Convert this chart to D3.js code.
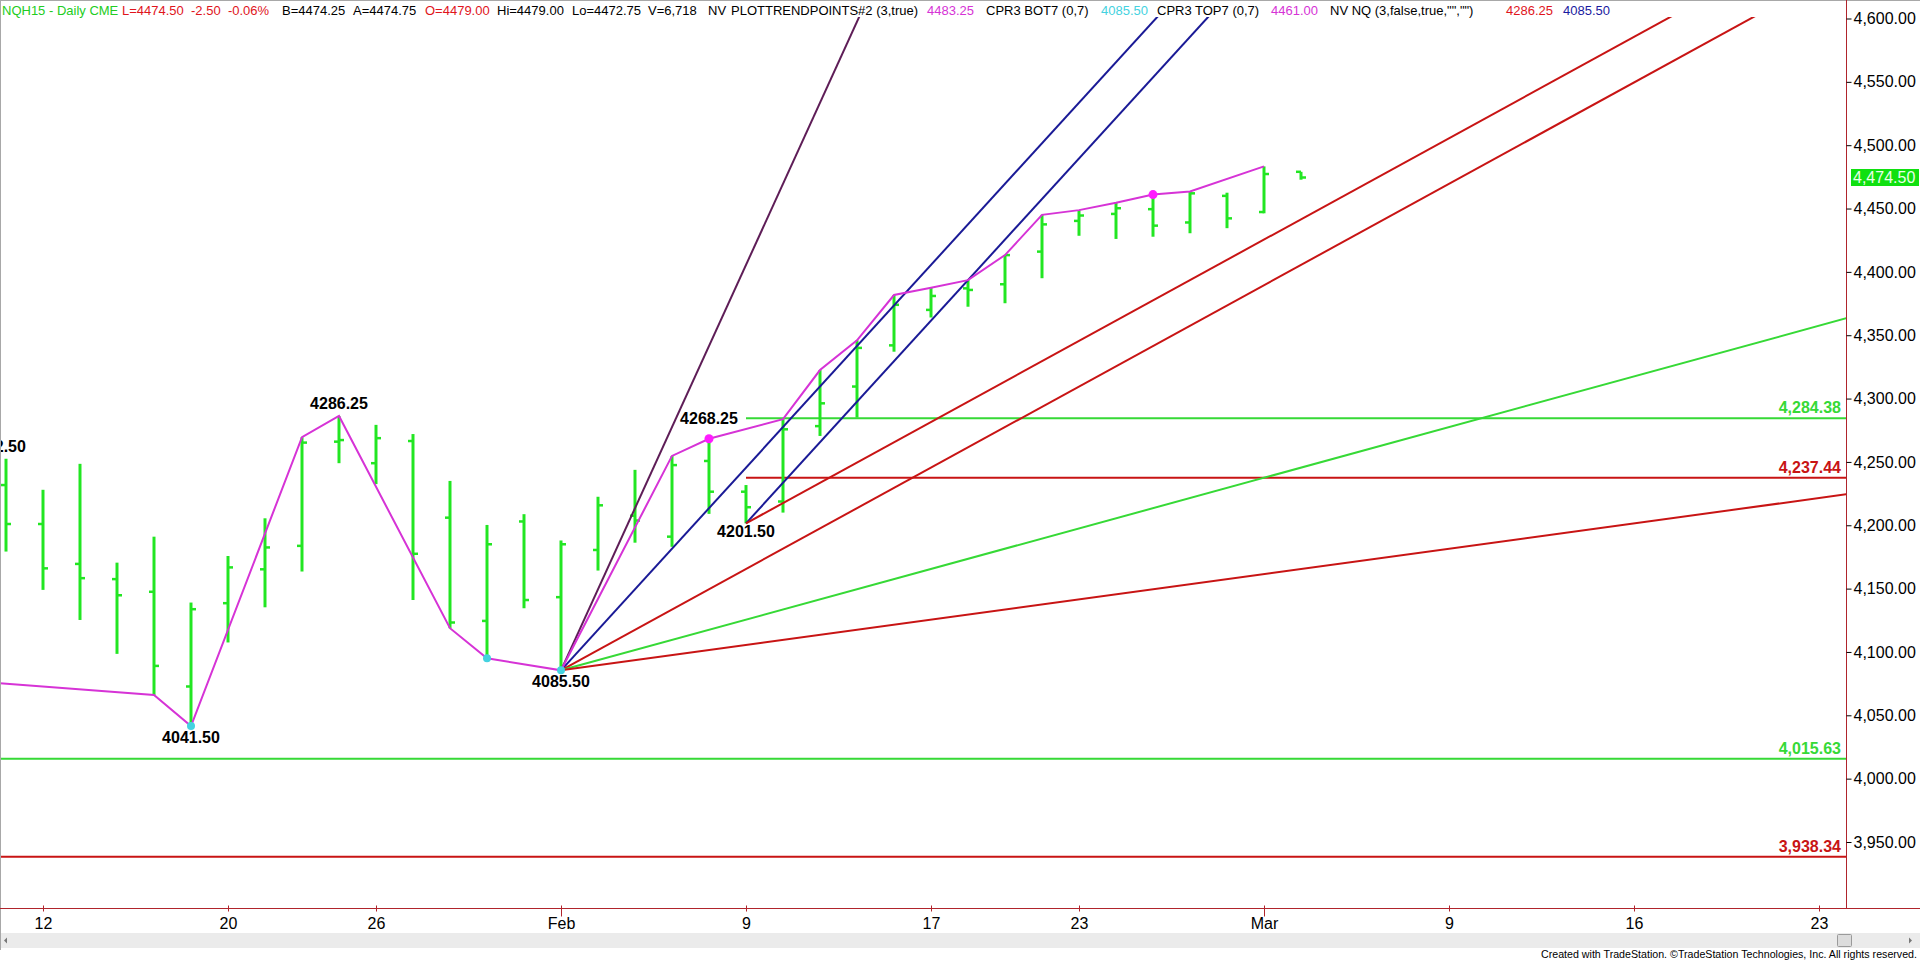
<!DOCTYPE html>
<html><head><meta charset="utf-8">
<script src="https://cdn.jsdelivr.net/npm/d3@7"></script>
<style>
html,body{margin:0;padding:0;background:#fff;overflow:hidden}
svg{display:block}
</style></head><body>
<svg id="chart" width="1920" height="964"></svg>
<script>
// ---------------- DATA ----------------
const tradingDays = [
 "2015-01-05","2015-01-06","2015-01-07","2015-01-08","2015-01-09",
 "2015-01-12","2015-01-13","2015-01-14","2015-01-15","2015-01-16",
 "2015-01-20","2015-01-21","2015-01-22","2015-01-23",
 "2015-01-26","2015-01-27","2015-01-28","2015-01-29","2015-01-30",
 "2015-02-02","2015-02-03","2015-02-04","2015-02-05","2015-02-06",
 "2015-02-09","2015-02-10","2015-02-11","2015-02-12","2015-02-13",
 "2015-02-17","2015-02-18","2015-02-19","2015-02-20",
 "2015-02-23","2015-02-24","2015-02-25","2015-02-26","2015-02-27",
 "2015-03-02","2015-03-03","2015-03-04","2015-03-05","2015-03-06",
 "2015-03-09","2015-03-10","2015-03-11","2015-03-12","2015-03-13",
 "2015-03-16","2015-03-17","2015-03-18","2015-03-19","2015-03-20",
 "2015-03-23","2015-03-24","2015-03-25","2015-03-26","2015-03-27"
];
const barDates = ["2015-01-09","2015-01-12","2015-01-13","2015-01-14","2015-01-15","2015-01-16",
 "2015-01-20","2015-01-21","2015-01-22","2015-01-23","2015-01-26","2015-01-27","2015-01-28",
 "2015-01-29","2015-01-30","2015-02-02","2015-02-03","2015-02-04","2015-02-05","2015-02-06",
 "2015-02-09","2015-02-10","2015-02-11","2015-02-12","2015-02-13","2015-02-17","2015-02-18",
 "2015-02-19","2015-02-20","2015-02-23","2015-02-24","2015-02-25","2015-02-26","2015-02-27",
 "2015-03-02","2015-03-03"];
const opens  = [4231.75,4201.00,4169.50,4157.50,4147.50,4072.75,4138.50,4165.25,4183.75,4266.00,4249.00,4266.50,4206.00,
 4124.50,4203.00,4143.25,4180.50,4207.50,4191.00,4250.75,4226.50,4218.75,4278.25,4309.50,4342.00,4370.00,4387.00,
 4390.25,4416.00,4440.25,4445.75,4449.50,4439.00,4460.00,4447.25,4479.00];
const highs  = [4252.50,4228.00,4248.50,4170.50,4191.00,4139.00,4175.75,4205.50,4269.50,4286.25,4279.25,4272.00,4235.00,
 4200.25,4208.75,4188.00,4222.50,4243.75,4254.75,4268.25,4231.75,4283.75,4322.50,4346.00,4381.75,4387.50,4393.50,
 4413.25,4445.00,4448.75,4454.50,4461.00,4463.50,4462.50,4483.25,4479.00];
const lows   = [4179.25,4149.00,4125.25,4098.50,4066.00,4041.50,4107.50,4135.25,4163.50,4249.00,4232.50,4141.00,4118.75,
 4095.00,4134.50,4085.50,4164.25,4186.25,4183.00,4209.00,4201.50,4210.00,4270.50,4285.00,4337.00,4364.00,4372.50,
 4375.25,4395.00,4428.50,4426.00,4427.75,4430.50,4434.50,4446.25,4472.75];
const closes = [4201.00,4166.00,4158.25,4144.75,4089.00,4133.75,4166.75,4182.50,4265.25,4267.25,4268.75,4177.50,4123.25,
 4185.00,4141.00,4185.00,4215.75,4203.75,4247.50,4226.50,4214.25,4275.75,4296.25,4340.00,4374.00,4381.00,4385.75,
 4413.25,4437.50,4444.50,4450.25,4436.50,4462.00,4442.25,4477.25,4474.50];

// swing line (PLOTTRENDPOINTS)
const swingDates  = ["2015-01-06","2015-01-15","2015-01-16","2015-01-22","2015-01-23","2015-01-28","2015-01-29",
 "2015-02-02","2015-02-05","2015-02-06","2015-02-10","2015-02-11","2015-02-12","2015-02-13","2015-02-17",
 "2015-02-18","2015-02-19","2015-02-20","2015-02-23","2015-02-24","2015-02-25","2015-02-26","2015-03-02"];
const swingValues = [4081.75,4066.00,4041.50,4269.50,4286.25,4118.75,4095.00,
 4085.50,4254.75,4268.25,4283.75,4322.50,4346.00,4381.75,4387.50,
 4393.50,4413.25,4445.00,4448.75,4454.50,4461.00,4463.50,4483.25];

// CPR3 pivot dots
const bottomDotDates  = ["2015-01-16","2015-01-29","2015-02-02"];
const bottomDotValues = [4041.50,4095.00,4085.50];
const topDotDates  = ["2015-02-06","2015-02-25"];
const topDotValues = [4268.25,4461.00];

// pivot labels
const pivotLabelDates  = ["2015-01-09","2015-01-16","2015-01-23","2015-02-02","2015-02-06","2015-02-09"];
const pivotLabelValues = [4252.50,4041.50,4286.25,4085.50,4268.25,4201.50];
const pivotLabelSide   = ["above","below","above","below","above","below"];

// Gann fan lines (points per bar)
const fanAnchorDates  = ["2015-02-02","2015-02-02","2015-02-02","2015-02-02","2015-02-02","2015-02-09","2015-02-09"];
const fanAnchorValues = [4085.50,4085.50,4085.50,4085.50,4085.50,4201.50,4201.50];
const fanSlopes       = [64,32,16,8,4,32,16];
const fanKinds        = ["purple","blue","red","green","red","blue","red"];

// horizontal levels
const levelValues = [4284.38,4237.44,4015.63,3938.34];
const levelStart  = ["2015-02-09","2015-02-09",null,null];
const levelKinds  = ["green","red","green","red"];

// axes
const yTickValues = d3.range(3950, 4601, 50);
const xTickDates  = ["2015-01-12","2015-01-20","2015-01-26","2015-02-02","2015-02-09","2015-02-17",
 "2015-02-23","2015-03-02","2015-03-09","2015-03-16","2015-03-23"];
const xTickLabels = ["12","20","26","Feb","9","17","23","Mar","9","16","23"];
const lastPrice = 4474.50;

// header segments
const headerTexts = ["NQH15 - Daily CME","L=4474.50  -2.50  -0.06%","B=4474.25","A=4474.75","O=4479.00",
 "Hi=4479.00","Lo=4472.75","V=6,718","NV","PLOTTRENDPOINTS#2 (3,true)","4483.25","CPR3 BOT7 (0,7)",
 "4085.50","CPR3 TOP7 (0,7)","4461.00","NV NQ (3,false,true,\"\",\"\")","4286.25","4085.50"];
const headerKinds = ["hgreen","hred","black","black","hred","black","black","black","black","black","magenta",
 "black","cyan","black","magenta","black","hred","navy"];
const footerText = "Created with TradeStation. \u00A9TradeStation Technologies, Inc. All rights reserved.";

// ---------------- LAYOUT / STYLE ----------------
const colors = {green:"#36d936", red:"#c81414", blue:"#1a1a96", purple:"#5e1d57", magenta:"#d633d6",
  dot:"#ff1cff", cyan:"#44d2e0", bar:"#22e622", axis:"#b0242c",
  hgreen:"#22cc22", hred:"#e0141c", black:"#000", navy:"#1a1aa0"};
const headerX = [2,122,282,353,425,497,572,648,708,731,927,986,1101,1157,1271,1330,1506,1563];
const plot = {left:0, right:1846, top:17, bottom:908};

const svg = d3.select("#chart");
const idx = new Map(tradingDays.map((d,i)=>[d,i]));
const x = d3.scaleLinear().domain([idx.get("2015-01-12"), idx.get("2015-03-23")]).range([43,1819]);
const y = d3.scaleLinear().domain([3950,4600]).range([842,18.5]);
const X = d => x(idx.get(d));

svg.append("rect").attr("width",1920).attr("height",964).attr("fill","#fff");
svg.append("defs").append("clipPath").attr("id","plotclip").append("rect")
  .attr("x",plot.left).attr("y",plot.top).attr("width",plot.right-plot.left).attr("height",plot.bottom-plot.top);

const g = svg.append("g").attr("clip-path","url(#plotclip)");

// horizontal levels
levelValues.forEach((v,i)=>{
  g.append("line").attr("x1", levelStart[i] ? X(levelStart[i]) : plot.left).attr("x2", plot.right)
    .attr("y1", y(v)).attr("y2", y(v)).attr("stroke", colors[levelKinds[i]]).attr("stroke-width",2);
});

// bars
const bars = barDates.map((d,i)=>({d, o:opens[i], h:highs[i], l:lows[i], c:closes[i]}));
const bg = g.append("g").attr("stroke", colors.bar);
bars.forEach(b=>{
  const cx = Math.round(X(b.d));
  bg.append("line").attr("x1",cx).attr("x2",cx).attr("y1",y(b.h)).attr("y2",y(b.l)).attr("stroke-width",3);
  bg.append("line").attr("x1",cx-5).attr("x2",cx).attr("y1",y(b.o)).attr("y2",y(b.o)).attr("stroke-width",2.5);
  bg.append("line").attr("x1",cx).attr("x2",cx+5).attr("y1",y(b.c)).attr("y2",y(b.c)).attr("stroke-width",2.5);
});

// fan lines
const farIdx = tradingDays.length + 20;
fanSlopes.forEach((s,i)=>{
  const i0 = idx.get(fanAnchorDates[i]);
  const v0 = fanAnchorValues[i];
  g.append("line").attr("x1",x(i0)).attr("y1",y(v0))
    .attr("x2",x(farIdx)).attr("y2",y(v0 + s*(farIdx-i0)))
    .attr("stroke",colors[fanKinds[i]]).attr("stroke-width",2);
});

// swing line
const swing = swingDates.map((d,i)=>[X(d), y(swingValues[i])]);
g.append("path").attr("d", d3.line()(swing)).attr("fill","none").attr("stroke",colors.magenta).attr("stroke-width",2);

// dots
bottomDotDates.forEach((d,i)=>g.append("circle").attr("cx",X(d)).attr("cy",y(bottomDotValues[i])).attr("r",4).attr("fill",colors.cyan));
topDotDates.forEach((d,i)=>g.append("circle").attr("cx",X(d)).attr("cy",y(topDotValues[i])).attr("r",4.5).attr("fill",colors.dot));

// pivot labels
const labelOffset = {above:-13, below:11};
pivotLabelDates.forEach((d,i)=>{
  let off = labelOffset[pivotLabelSide[i]];
  let dx = 0;
  if (topDotDates.includes(d)) off = -21;
  if (d === "2015-02-09") off = 8;
  if (d === "2015-01-09") dx = -9;
  g.append("text").attr("x",X(d)+dx).attr("y",y(pivotLabelValues[i])+off).attr("dy","0.36em")
    .attr("text-anchor","middle").attr("font-family","'Liberation Sans',Arial,sans-serif")
    .attr("font-size",16).attr("font-weight","bold").attr("fill","#000")
    .text(pivotLabelValues[i].toFixed(2));
});

// level labels
levelValues.forEach((v,i)=>{
  g.append("text").attr("x",1841).attr("y",y(v)-11).attr("dy","0.36em").attr("text-anchor","end")
    .attr("font-family","'Liberation Sans',Arial,sans-serif").attr("font-size",16).attr("font-weight","bold")
    .attr("fill",colors[levelKinds[i]]).text(d3.format(",.2f")(v));
});

// frame
svg.append("line").attr("x1",0).attr("x2",1920).attr("y1",0.5).attr("y2",0.5).attr("stroke","#a8a8a8");
svg.append("line").attr("x1",0.5).attr("x2",0.5).attr("y1",0).attr("y2",950).attr("stroke","#a8a8a8");
svg.append("line").attr("x1",plot.right+0.5).attr("x2",plot.right+0.5).attr("y1",0).attr("y2",plot.bottom).attr("stroke",colors.axis);
svg.append("line").attr("x1",0).attr("x2",1920).attr("y1",plot.bottom+0.5).attr("y2",plot.bottom+0.5).attr("stroke",colors.axis);

// right axis
const ya = svg.append("g").attr("transform",`translate(${plot.right+0.5},0)`)
  .call(d3.axisRight(y).tickValues(yTickValues).tickFormat(d3.format(",.2f")).tickSize(5).tickPadding(2));
ya.select(".domain").remove();
ya.selectAll(".tick line").attr("stroke","#000");
ya.selectAll(".tick text").attr("font-family","'Liberation Sans',Arial,sans-serif").attr("font-size",16).attr("fill","#000");

// last price marker
const lp = svg.append("g");
lp.append("rect").attr("x",1851).attr("y",y(lastPrice)-8.5).attr("width",68).attr("height",17).attr("fill","#10e010");
lp.append("text").attr("x",1853).attr("y",y(lastPrice)).attr("dy","0.36em").attr("font-family","'Liberation Sans',Arial,sans-serif")
  .attr("font-size",16).attr("fill","#eaffea").text(d3.format(",.2f")(lastPrice));

// bottom axis
const xa = svg.append("g").attr("transform",`translate(0,${plot.bottom+0.5})`)
  .call(d3.axisBottom(x).tickValues(xTickDates.map(d=>idx.get(d))).tickFormat((d,i)=>xTickLabels[i]).tickSize(0).tickPadding(9));
xa.select(".domain").remove();
xa.selectAll(".tick text").attr("font-family","'Liberation Sans Narrow','Arial Narrow','Liberation Sans',Arial,sans-serif")
  .attr("font-size",16).attr("fill","#000");
xa.selectAll(".tick").append("line").attr("stroke",colors.axis).attr("y1",-3)
  .attr("y2",(d,i)=> (xTickLabels[i]==="Feb"||xTickLabels[i]==="Mar") ? 8 : 3);

// scrollbar
svg.append("rect").attr("x",1).attr("y",933).attr("width",1919).attr("height",15).attr("fill","#ebebeb");
svg.append("path").attr("d","M4,940.5 L7,937.5 L7,943.5 Z").attr("fill","#777");
svg.append("path").attr("d","M1912,940.5 L1909,937.5 L1909,943.5 Z").attr("fill","#777");
svg.append("rect").attr("x",1837.5).attr("y",934.5).attr("width",14).attr("height",12).attr("rx",1)
  .attr("fill","#dcdcdc").attr("stroke","#9a9a9a");

// footer
svg.append("text").attr("x",1917).attr("y",958).attr("text-anchor","end")
  .attr("font-family","'Liberation Sans',Arial,sans-serif").attr("font-size",11)
  .attr("textLength",376).attr("lengthAdjust","spacingAndGlyphs").attr("fill","#000").text(footerText);

// header
headerTexts.forEach((t,i)=>{
  svg.append("text").attr("x",headerX[i]).attr("y",15).attr("font-family","'Liberation Sans',Arial,sans-serif")
    .attr("font-size",13).attr("fill",colors[headerKinds[i]]).attr("xml:space","preserve").style("white-space","pre").text(t);
});
</script>
</body></html>
